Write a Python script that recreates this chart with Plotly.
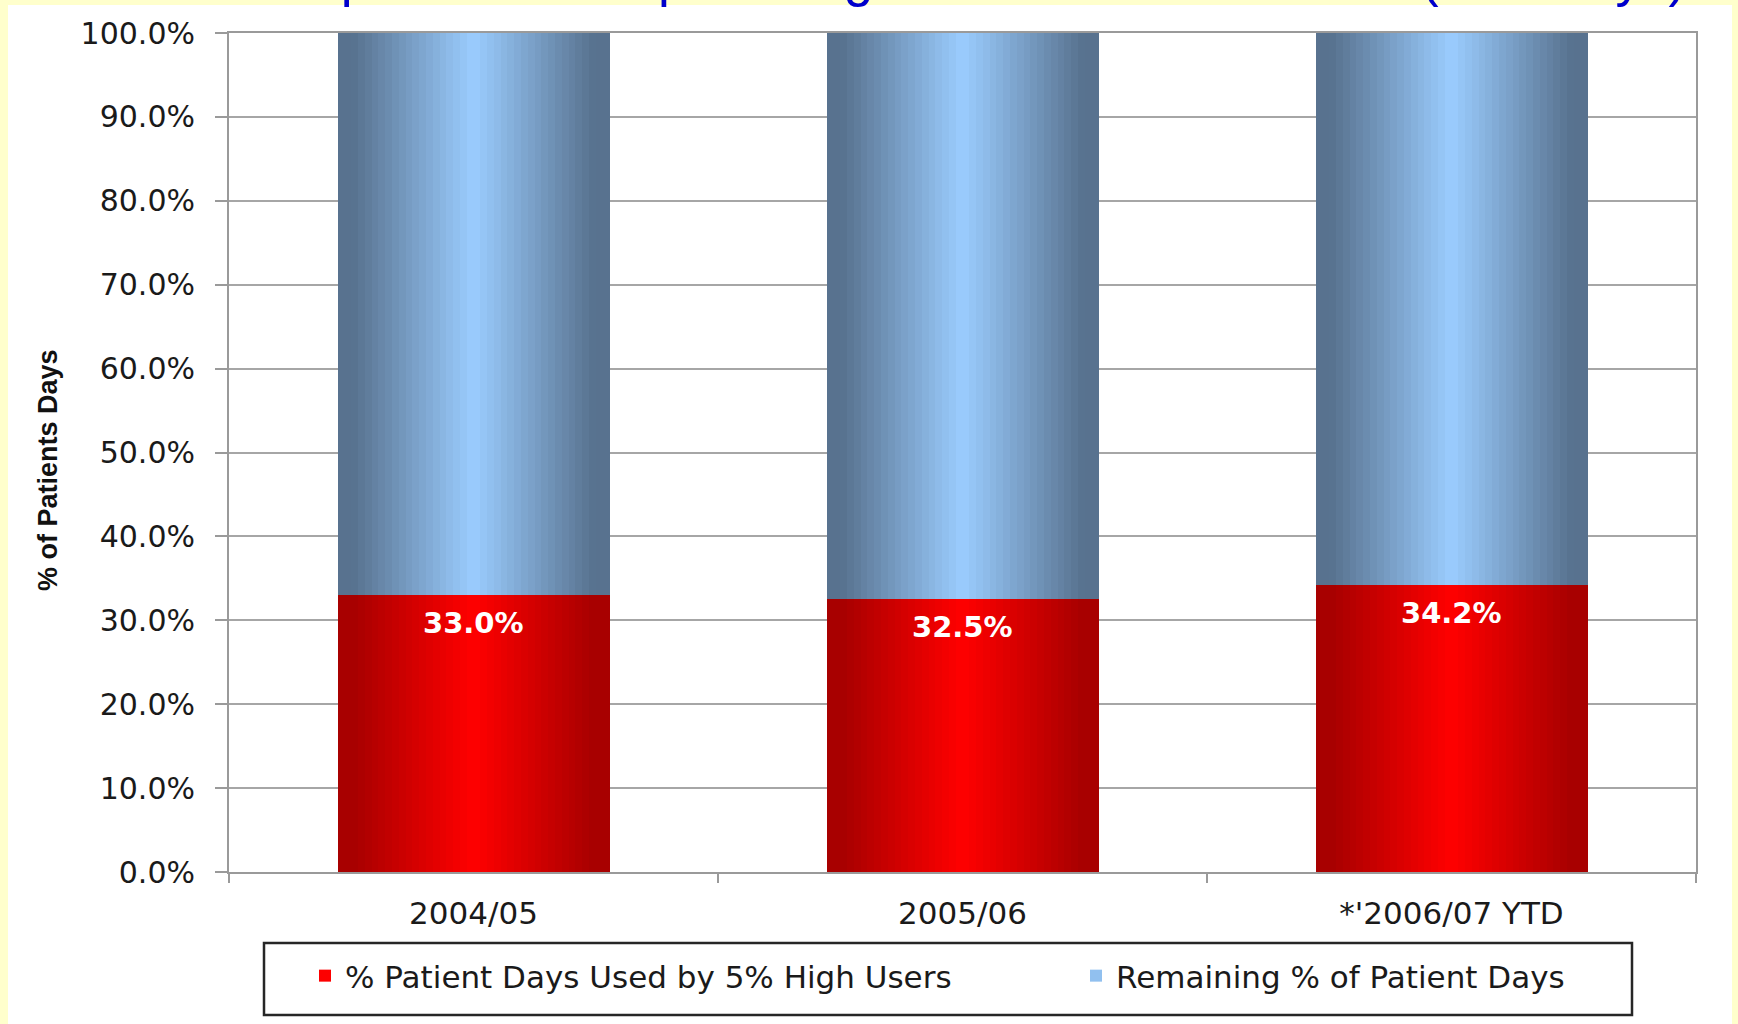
import plotly.graph_objects as go

# ---------------- data ----------------
categories = ["2004/05", "2005/06", "*'2006/07 YTD"]
high_user_pct = [33.0, 32.5, 34.2]
remaining_pct = [67.0, 67.5, 65.8]
label_text = ["33.0%", "32.5%", "34.2%"]
y_tick_values = [0, 10, 20, 30, 40, 50, 60, 70, 80, 90, 100]
y_tick_labels = ["0.0%", "10.0%", "20.0%", "30.0%", "40.0%", "50.0%",
                 "60.0%", "70.0%", "80.0%", "90.0%", "100.0%"]
series_names = ["% Patient Days Used by 5% High Users", "Remaining % of Patient Days"]
y_axis_title = "% of Patients Days"
title_text = "Impact of the Top 5% High Users on Acute Care (Bed Days)"

# ---------------- layout geometry ----------------
W, H = 1738, 1024
L, R, T, B = 229, 42, 33, 152
PW, PH = W - L - R, H - T - B


def px_x(px):
    return (px - L) / PW


def px_y(py):
    return (H - B - py) / PH


BAR_W = 0.556
N = 40


def lerp(c0, c1, t):
    return "rgb(%d,%d,%d)" % tuple(round(a + (b - a) * t) for a, b in zip(c0, c1))


def grad(i, center, edge):
    t = abs((i + 0.5) - N / 2) / (N / 2)
    t = min(1.0, t / 0.88)
    return lerp(center, edge, t)


RED_C, RED_E = (255, 0, 0), (168, 0, 0)
BLUE_C, BLUE_E = (155, 205, 255), (88, 114, 143)

fig = go.Figure()
step = BAR_W / N
for i in range(N):
    tr = dict(
        x=categories, y=high_user_pct, base=[0] * len(categories),
        offset=-BAR_W / 2 + i * step, width=step * 1.04,
        marker=dict(color=grad(i, RED_C, RED_E), line=dict(width=0)),
        name=series_names[0], legendgroup="red",
        showlegend=(i == N // 2), hoverinfo="skip",
    )
    if i == N // 2:
        tr["legendwidth"] = 726
    fig.add_trace(go.Bar(**tr))
for i in range(N):
    fig.add_trace(go.Bar(
        x=categories, y=remaining_pct, base=high_user_pct,
        offset=-BAR_W / 2 + i * step, width=step * 1.04,
        marker=dict(color=grad(i, BLUE_C, BLUE_E), line=dict(width=0)),
        name=series_names[1], legendgroup="blue",
        showlegend=(i == N // 2 - 3), hoverinfo="skip",
    ))

# data labels
for c, v, t in zip(categories, high_user_pct, label_text):
    fig.add_annotation(x=c, y=v, xref="x", yref="y", text=t, showarrow=False,
                       yshift=-28, yanchor="middle",
                       font=dict(family="DejaVu Sans", size=29, color="white", weight="bold"))

# y axis title
fig.add_annotation(x=px_x(48), y=px_y(470), xref="paper", yref="paper", text=y_axis_title,
                   textangle=-90, showarrow=False, xanchor="center", yanchor="middle",
                   font=dict(family="Liberation Sans", size=27, color="#111111", weight="bold"))

# clipped title at top
fig.add_annotation(x=px_x(984), y=px_y(-23), xref="paper", yref="paper", text=title_text,
                   showarrow=False, xanchor="center", yanchor="middle",
                   font=dict(family="Liberation Sans", size=53, color="#0000CC"))

# page background strips and legend frame
yellow = "#FFFFCC"
fig.add_shape(type="rect", xref="paper", yref="paper", x0=px_x(-5), x1=px_x(8), y0=px_y(1030), y1=px_y(-5),
              fillcolor=yellow, line=dict(width=0), layer="below")
fig.add_shape(type="rect", xref="paper", yref="paper", x0=px_x(1732), x1=px_x(1745), y0=px_y(1030), y1=px_y(-5),
              fillcolor=yellow, line=dict(width=0), layer="below")
fig.add_shape(type="rect", xref="paper", yref="paper", x0=px_x(-5), x1=px_x(1745), y0=px_y(5), y1=px_y(-5),
              fillcolor=yellow, line=dict(width=0), layer="below")
fig.add_shape(type="rect", xref="paper", yref="paper", x0=px_x(264), x1=px_x(1632), y0=px_y(1015), y1=px_y(943),
              fillcolor="rgba(0,0,0,0)", line=dict(color="#262626", width=2.5))

fig.update_layout(
    width=W, height=H,
    margin=dict(l=L, r=R, t=T, b=B, pad=0),
    paper_bgcolor="white", plot_bgcolor="white",
    barmode="overlay", bargap=0,
    font=dict(family="DejaVu Sans", size=30, color="#1a1a1a"),
    showlegend=True,
    legend=dict(orientation="h", x=px_x(305), y=px_y(976), xanchor="left", yanchor="middle",
                bgcolor="rgba(0,0,0,0)", borderwidth=0,
                font=dict(family="DejaVu Sans", size=31, color="#1a1a1a"), traceorder="normal",
                itemclick=False),
    xaxis=dict(type="category", tickson="boundaries", ticks="outside", ticklen=9, tickwidth=2,
               tickcolor="#9a9a9a", showline=True, linecolor="#9a9a9a", linewidth=2, mirror=True,
               showgrid=False, tickfont=dict(family="DejaVu Sans", size=31, color="#1a1a1a"),
               ticklabelstandoff=13, range=[-0.5, 2.5]),
    yaxis=dict(range=[0, 100], tickmode="array", tickvals=y_tick_values, ticktext=y_tick_labels,
               ticks="outside", ticklen=12, tickwidth=2, tickcolor="#9a9a9a",
               showline=True, linecolor="#9a9a9a", linewidth=2, mirror=True,
               showgrid=True, gridcolor="#a6a6a6", gridwidth=1.5, zeroline=False,
               ticklabelstandoff=14,
               tickfont=dict(family="DejaVu Sans", size=30, color="#1a1a1a")),
)

fig.write_html("out.html", config={"displayModeBar": False},
               post_script="document.body.style.margin='0';document.body.style.background='#FFFFCC';")
